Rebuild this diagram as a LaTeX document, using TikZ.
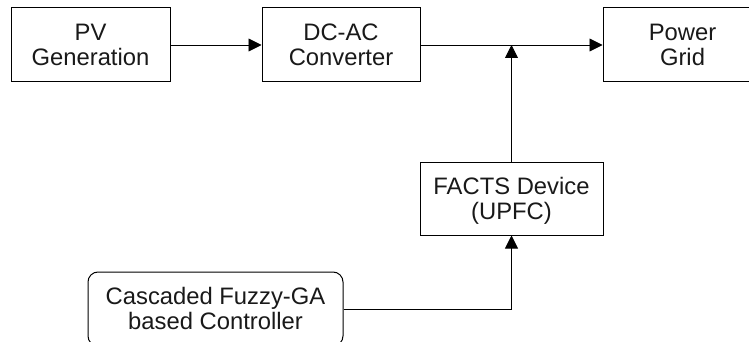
\documentclass[tikz,border=0pt]{standalone}
\usepackage{fontspec}
\setmainfont{Liberation Sans}
\usetikzlibrary{arrows.meta}
\begin{document}
\begin{tikzpicture}[x=1pt,y=-1pt,
  blk/.style={draw=black,line width=1pt,align=center,text=black!90,
    font=\fontsize{23.8}{25}\selectfont,inner sep=0pt,text depth=1pt},
  conn/.style={draw=black,line width=0.9pt,-{Triangle[length=13pt,width=13pt]}},
  wire/.style={draw=black,line width=0.9pt}]
\useasboundingbox (0,0) rectangle (749,342);
\clip (0,0) rectangle (749,342);
\node[blk,minimum width=159pt,minimum height=74pt] (pv) at (90.5,45) {PV\\Generation};
\node[blk,minimum width=158pt,minimum height=74pt] (dc) at (341,45) {DC-AC\\Converter};
\node[blk,minimum width=159pt,minimum height=74pt] (grid) at (682.5,45) {Power\\Grid};
\node[blk,minimum width=183pt,minimum height=73pt] (facts) at (511.5,198.5) {FACTS Device\\(UPFC)};
\node[blk,rounded corners=10pt,minimum width=255pt,minimum height=74pt] (ctrl) at (215.5,309) {Cascaded Fuzzy-GA\\based Controller};
\coordinate (junc) at (dc.east -| facts.north);
\draw[conn] (pv.east) -- (dc.west);
\draw[conn] (dc.east) -- (grid.west);
\draw[conn] (facts.north) -- (junc);
\draw[conn] (ctrl.east) -| (facts.south);
\end{tikzpicture}
\end{document}
